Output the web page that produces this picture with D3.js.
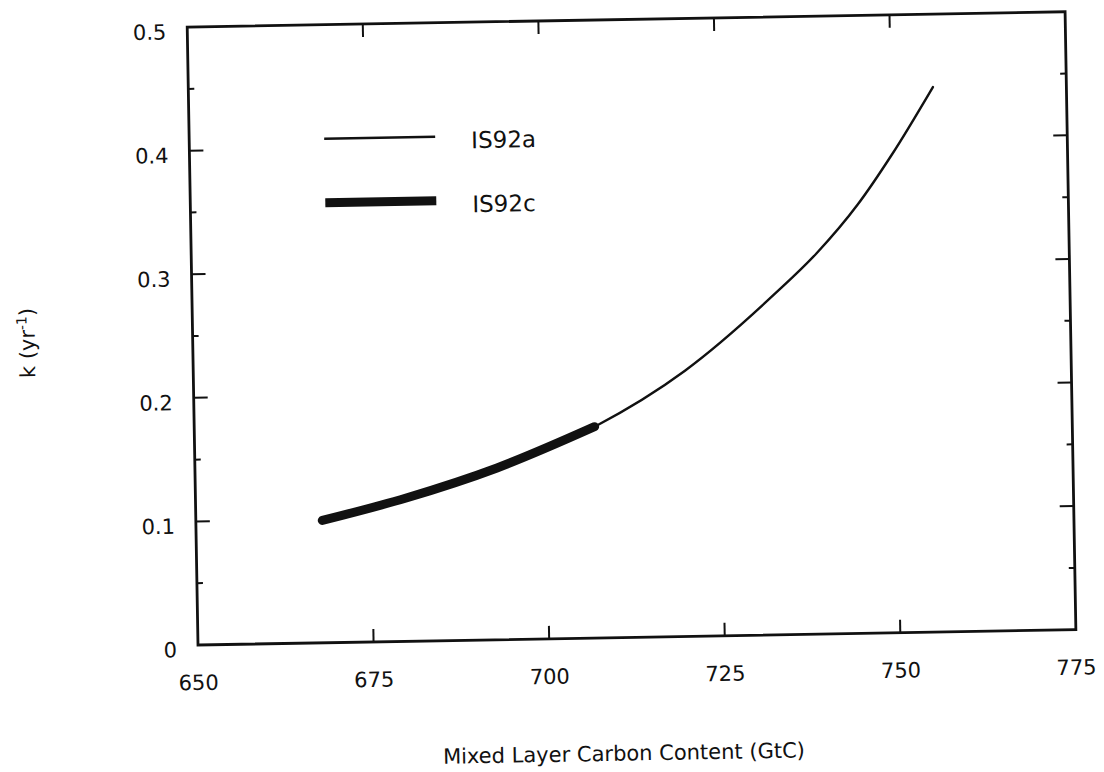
<!DOCTYPE html>
<html><head><meta charset="utf-8">
<script src="https://cdn.jsdelivr.net/npm/d3@7"></script>
<style>
body{margin:0;background:#fff}
text{font-family:"DejaVu Sans",sans-serif;fill:#111}
</style>
</head><body>
<svg id="c" width="1104" height="772"></svg>
<script>
// ---- data ----
const seriesNames = ["IS92a", "IS92c"];
const is92aX = [668, 680, 693, 707, 720, 733, 739, 745, 750, 756];
const is92aK = [0.099, 0.116, 0.139, 0.171, 0.215, 0.276, 0.308, 0.347, 0.387, 0.441];
const is92cX = [668, 680, 693, 707];
const is92cK = [0.099, 0.116, 0.139, 0.171];
const xTicks = [650, 675, 700, 725, 750, 775];
const yTicks = [0, 0.1, 0.2, 0.3, 0.4, 0.5];
const yMinorTicks = [0.05, 0.15, 0.25, 0.35, 0.45];
const xTitle = "Mixed Layer Carbon Content (GtC)";

// ---- layout ----
const L = 198, T = 27, W = 878, H = 618, B = T + H, R = L + W;
const svg = d3.select("#c");
const g = svg.append("g").attr("transform", `rotate(-1.0,${L},${B})`);

const x = d3.scaleLinear().domain([650, 775]).range([L, R]);
const y = d3.scaleLinear().domain([0, 0.5]).range([B, T]);

const ink = "#111";
// frame
g.append("rect").attr("x", L).attr("y", T).attr("width", W).attr("height", H)
  .attr("fill", "none").attr("stroke", ink).attr("stroke-width", 2.8);

// x ticks (bottom + top, inward)
const majX = 13;
g.append("g").selectAll("line").data(xTicks.slice(1, -1)).join("line")
  .attr("x1", d => x(d)).attr("x2", d => x(d)).attr("y1", B).attr("y2", B - majX)
  .attr("stroke", ink).attr("stroke-width", 2);
g.append("g").selectAll("line").data(xTicks.slice(1, -1)).join("line")
  .attr("x1", d => x(d)).attr("x2", d => x(d)).attr("y1", T).attr("y2", T + majX)
  .attr("stroke", ink).attr("stroke-width", 2);

// y ticks (left + right, inward)
const majY = 14, minY = 6;
[[yTicks.slice(1, -1), majY], [yMinorTicks, minY]].forEach(([arr, len]) => {
  g.append("g").selectAll("line").data(arr).join("line")
    .attr("x1", L).attr("x2", L + len).attr("y1", d => y(d)).attr("y2", d => y(d))
    .attr("stroke", ink).attr("stroke-width", 2);
  g.append("g").selectAll("line").data(arr).join("line")
    .attr("x1", R).attr("x2", R - len).attr("y1", d => y(d)).attr("y2", d => y(d))
    .attr("stroke", ink).attr("stroke-width", 2);
});

// tick labels
g.append("g").selectAll("text").data(xTicks).join("text")
  .attr("x", d => x(d)).attr("y", B + 45).attr("text-anchor", "middle")
  .attr("font-size", 21).text(d => d);
g.append("g").selectAll("text").data(yTicks).join("text")
  .attr("x", L - 21).attr("y", d => y(d) + 12).attr("text-anchor", "end")
  .attr("font-size", 21).text(d => d === 0 ? "0" : d3.format(".1f")(d));

// axis titles
g.append("text").attr("x", 622).attr("y", 768).attr("text-anchor", "middle")
  .attr("font-size", 21).text(xTitle);
const yt = g.append("text").attr("transform", "translate(40,340) rotate(-90)")
  .attr("text-anchor", "middle").attr("font-size", 21);
yt.append("tspan").text("k (yr");
yt.append("tspan").attr("font-size", 14).attr("dy", -8).text("-1");
yt.append("tspan").attr("dy", 8).text(")");

// curves
const line = d3.line().x(d => x(d[0])).y(d => y(d[1])).curve(d3.curveMonotoneX);
const aData = is92aX.map((v, i) => [v, is92aK[i]]);
const cData = is92cX.map((v, i) => [v, is92cK[i]]);
g.append("path").attr("d", line(aData)).attr("fill", "none").attr("stroke", ink)
  .attr("stroke-width", 2.4).attr("stroke-linecap", "round");
g.append("path").attr("d", line(cData)).attr("fill", "none").attr("stroke", ink)
  .attr("stroke-width", 9).attr("stroke-linecap", "round");

// legend
const leg = [
  {name: seriesNames[0], w: 2.6, y: 141, ty: 153},
  {name: seriesNames[1], w: 9, y: 205, ty: 217}
];
leg.forEach(d => {
  g.append("line").attr("x1", 333).attr("x2", 444).attr("y1", d.y).attr("y2", d.y)
    .attr("stroke", ink).attr("stroke-width", d.w);
  g.append("text").attr("x", 480).attr("y", d.ty).attr("font-size", 23).text(d.name);
});
</script>
</body></html>
